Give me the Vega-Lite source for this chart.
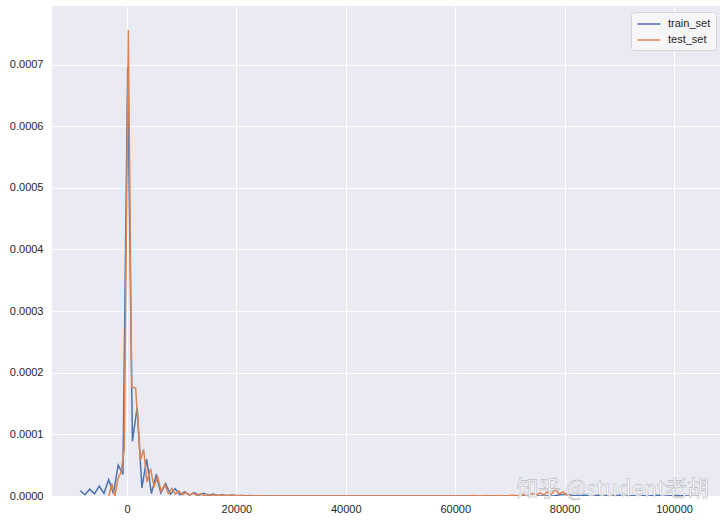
{
  "$schema": "https://vega.github.io/schema/vega-lite/v6.json",
  "width": 668,
  "height": 490,
  "autosize": {"type": "none"},
  "padding": {"left": 52, "top": 6, "right": 7, "bottom": 27},
  "background": "#ffffff",
  "config": {
    "view": {"fill": "#EAEAF2", "stroke": null},
    "font": "Liberation Sans",
    "axis": {
      "domain": false,
      "ticks": false,
      "grid": true,
      "gridColor": "#ffffff",
      "gridWidth": 1,
      "labelFont": "Liberation Sans",
      "labelFontSize": 11,
      "labelColor": "#262626",
      "title": null
    },
    "legend": {
      "labelFont": "Liberation Sans",
      "labelFontSize": 11,
      "labelColor": "#262626"
    }
  },
  "layer": [
    {
      "data": {
        "values": [
          {"x": -8537, "density": 0.0000085, "set": "train_set"},
          {"x": -7670, "density": 0.0000020, "set": "train_set"},
          {"x": -6803, "density": 0.0000110, "set": "train_set"},
          {"x": -5936, "density": 0.0000035, "set": "train_set"},
          {"x": -5069, "density": 0.0000160, "set": "train_set"},
          {"x": -4202, "density": 0.0000045, "set": "train_set"},
          {"x": -3335, "density": 0.0000265, "set": "train_set"},
          {"x": -2468, "density": 0.0000040, "set": "train_set"},
          {"x": -1601, "density": 0.0000500, "set": "train_set"},
          {"x": -734, "density": 0.0000350, "set": "train_set"},
          {"x": 133, "density": 0.000695, "set": "train_set"},
          {"x": 1000, "density": 0.0000890, "set": "train_set"},
          {"x": 1867, "density": 0.000144, "set": "train_set"},
          {"x": 2734, "density": 0.0000130, "set": "train_set"},
          {"x": 3601, "density": 0.0000600, "set": "train_set"},
          {"x": 4468, "density": 0.0000040, "set": "train_set"},
          {"x": 5335, "density": 0.0000335, "set": "train_set"},
          {"x": 6202, "density": 0.0000050, "set": "train_set"},
          {"x": 7069, "density": 0.0000200, "set": "train_set"},
          {"x": 7936, "density": 0.0000030, "set": "train_set"},
          {"x": 8803, "density": 0.0000120, "set": "train_set"},
          {"x": 9670, "density": 0.0000020, "set": "train_set"},
          {"x": 10537, "density": 0.0000068, "set": "train_set"},
          {"x": 11404, "density": 0.0000015, "set": "train_set"},
          {"x": 12271, "density": 0.0000055, "set": "train_set"},
          {"x": 13138, "density": 0.0000012, "set": "train_set"},
          {"x": 14005, "density": 0.0000042, "set": "train_set"},
          {"x": 14872, "density": 0.0000010, "set": "train_set"},
          {"x": 15739, "density": 0.0000030, "set": "train_set"},
          {"x": 16606, "density": 0.0000008, "set": "train_set"},
          {"x": 17473, "density": 0.0000022, "set": "train_set"},
          {"x": 18340, "density": 0.0000005, "set": "train_set"},
          {"x": 19207, "density": 0.0000015, "set": "train_set"},
          {"x": 20074, "density": 0.0000004, "set": "train_set"},
          {"x": 20941, "density": 0.0000010, "set": "train_set"},
          {"x": 21808, "density": 0.0000003, "set": "train_set"},
          {"x": 22675, "density": 0.0000007, "set": "train_set"},
          {"x": 23542, "density": 0.0000002, "set": "train_set"},
          {"x": 24409, "density": 0.0000005, "set": "train_set"},
          {"x": 25276, "density": 0.0000001, "set": "train_set"},
          {"x": 26143, "density": 0.0000003, "set": "train_set"},
          {"x": 27010, "density": 0.0000000, "set": "train_set"},
          {"x": 78000, "density": 0.0000000, "set": "train_set"},
          {"x": 79200, "density": 0.0000020, "set": "train_set"},
          {"x": 80400, "density": 0.0000030, "set": "train_set"},
          {"x": 81600, "density": 0.0000005, "set": "train_set"},
          {"x": 83300, "density": 0.0000016, "set": "train_set"},
          {"x": 85000, "density": 0.0000003, "set": "train_set"},
          {"x": 86700, "density": 0.0000015, "set": "train_set"},
          {"x": 88400, "density": 0.0000002, "set": "train_set"},
          {"x": 90100, "density": 0.0000014, "set": "train_set"},
          {"x": 91800, "density": 0.0000002, "set": "train_set"},
          {"x": 93500, "density": 0.0000013, "set": "train_set"},
          {"x": 95200, "density": 0.0000002, "set": "train_set"},
          {"x": 96900, "density": 0.0000012, "set": "train_set"},
          {"x": 98600, "density": 0.0000002, "set": "train_set"},
          {"x": 100300, "density": 0.0000008, "set": "train_set"},
          {"x": 102800, "density": 0.0000000, "set": "train_set"},
          {"x": -3300, "density": 0.0000000, "set": "test_set"},
          {"x": -2750, "density": 0.0000200, "set": "test_set"},
          {"x": -2200, "density": 0.0000000, "set": "test_set"},
          {"x": -1650, "density": 0.0000280, "set": "test_set"},
          {"x": -1100, "density": 0.0000380, "set": "test_set"},
          {"x": -500, "density": 0.0000750, "set": "test_set"},
          {"x": 256, "density": 0.000756, "set": "test_set"},
          {"x": 860, "density": 0.000177, "set": "test_set"},
          {"x": 1590, "density": 0.000175, "set": "test_set"},
          {"x": 2450, "density": 0.0000580, "set": "test_set"},
          {"x": 3050, "density": 0.0000757, "set": "test_set"},
          {"x": 3660, "density": 0.0000227, "set": "test_set"},
          {"x": 4300, "density": 0.0000444, "set": "test_set"},
          {"x": 4950, "density": 0.0000155, "set": "test_set"},
          {"x": 5600, "density": 0.0000310, "set": "test_set"},
          {"x": 6250, "density": 0.0000080, "set": "test_set"},
          {"x": 6900, "density": 0.0000190, "set": "test_set"},
          {"x": 7550, "density": 0.0000040, "set": "test_set"},
          {"x": 8200, "density": 0.0000120, "set": "test_set"},
          {"x": 8850, "density": 0.0000030, "set": "test_set"},
          {"x": 9500, "density": 0.0000085, "set": "test_set"},
          {"x": 10150, "density": 0.0000020, "set": "test_set"},
          {"x": 10800, "density": 0.0000060, "set": "test_set"},
          {"x": 11450, "density": 0.0000015, "set": "test_set"},
          {"x": 12100, "density": 0.0000045, "set": "test_set"},
          {"x": 12750, "density": 0.0000012, "set": "test_set"},
          {"x": 13400, "density": 0.0000035, "set": "test_set"},
          {"x": 14050, "density": 0.0000010, "set": "test_set"},
          {"x": 14700, "density": 0.0000028, "set": "test_set"},
          {"x": 15350, "density": 0.0000008, "set": "test_set"},
          {"x": 16000, "density": 0.0000020, "set": "test_set"},
          {"x": 16650, "density": 0.0000006, "set": "test_set"},
          {"x": 17300, "density": 0.0000015, "set": "test_set"},
          {"x": 17950, "density": 0.0000005, "set": "test_set"},
          {"x": 18600, "density": 0.0000012, "set": "test_set"},
          {"x": 19250, "density": 0.0000004, "set": "test_set"},
          {"x": 19900, "density": 0.0000009, "set": "test_set"},
          {"x": 20550, "density": 0.0000003, "set": "test_set"},
          {"x": 21200, "density": 0.0000007, "set": "test_set"},
          {"x": 21850, "density": 0.0000002, "set": "test_set"},
          {"x": 22500, "density": 0.0000005, "set": "test_set"},
          {"x": 23150, "density": 0.0000001, "set": "test_set"},
          {"x": 23800, "density": 0.0000003, "set": "test_set"},
          {"x": 25000, "density": 0.0000000, "set": "test_set"},
          {"x": 62000, "density": 0.0000000, "set": "test_set"},
          {"x": 63200, "density": 0.0000008, "set": "test_set"},
          {"x": 64400, "density": 0.0000000, "set": "test_set"},
          {"x": 65600, "density": 0.0000009, "set": "test_set"},
          {"x": 66800, "density": 0.0000001, "set": "test_set"},
          {"x": 68000, "density": 0.0000010, "set": "test_set"},
          {"x": 69200, "density": 0.0000002, "set": "test_set"},
          {"x": 70400, "density": 0.0000012, "set": "test_set"},
          {"x": 71600, "density": 0.0000004, "set": "test_set"},
          {"x": 72700, "density": 0.0000025, "set": "test_set"},
          {"x": 73400, "density": 0.0000008, "set": "test_set"},
          {"x": 74100, "density": 0.0000040, "set": "test_set"},
          {"x": 74800, "density": 0.0000012, "set": "test_set"},
          {"x": 75500, "density": 0.0000050, "set": "test_set"},
          {"x": 76200, "density": 0.0000018, "set": "test_set"},
          {"x": 76900, "density": 0.0000065, "set": "test_set"},
          {"x": 77600, "density": 0.0000030, "set": "test_set"},
          {"x": 78300, "density": 0.0000110, "set": "test_set"},
          {"x": 79000, "density": 0.0000030, "set": "test_set"},
          {"x": 79700, "density": 0.0000070, "set": "test_set"},
          {"x": 80400, "density": 0.0000010, "set": "test_set"},
          {"x": 81200, "density": 0.0000000, "set": "test_set"}
        ]
      },
      "mark": {"type": "line", "strokeWidth": 1.5, "clip": true},
      "encoding": {
        "x": {
          "field": "x",
          "type": "quantitative",
          "scale": {"domain": [-13700, 108400], "nice": false, "zero": false},
          "axis": {"values": [0, 20000, 40000, 60000, 80000, 100000], "format": "d", "labelPadding": 7}
        },
        "y": {
          "field": "density",
          "type": "quantitative",
          "scale": {"domain": [0, 0.000795], "nice": false},
          "axis": {"values": [0, 0.0001, 0.0002, 0.0003, 0.0004, 0.0005, 0.0006, 0.0007], "format": ".4f", "labelPadding": 9}
        },
        "color": {
          "field": "set",
          "type": "nominal",
          "scale": {"domain": ["train_set", "test_set"], "range": ["#4C72B0", "#DD8452"]},
          "legend": {
            "title": null,
            "orient": "none",
            "legendX": 579,
            "legendY": 6,
            "symbolType": "M-1.9,0H1.9",
            "symbolSize": 144,
            "symbolOffset": 6,
            "symbolStrokeWidth": 1.5,
            "labelOffset": 12,
            "rowPadding": 4,
            "padding": 5,
            "fillColor": "#F6F6F9",
            "strokeColor": "#D4D4D8",
            "cornerRadius": 3
          }
        }
      }
    },
    {
      "data": {"values": [{"x": 88840, "density": 0.0000110, "label": "知乎 @student老胡"}]},
      "mark": {
        "type": "text",
        "font": "Noto Sans CJK SC",
        "fontSize": 22,
        "align": "center",
        "baseline": "middle",
        "fill": "#ffffff",
        "fillOpacity": 0.95,
        "stroke": "#a0a0a8",
        "strokeWidth": 0.4,
        "clip": false
      },
      "encoding": {
        "x": {"field": "x", "type": "quantitative"},
        "y": {"field": "density", "type": "quantitative"},
        "text": {"field": "label", "type": "nominal"}
      }
    }
  ]
}
